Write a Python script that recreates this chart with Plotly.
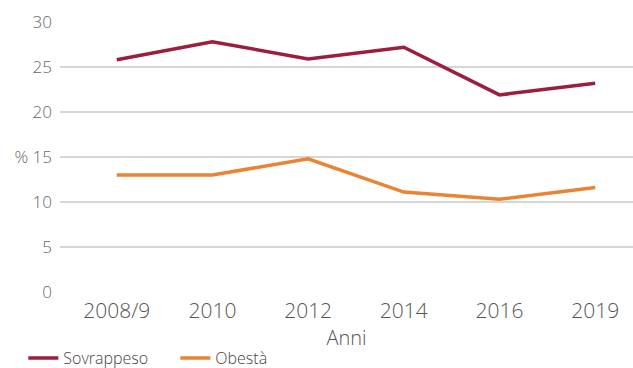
import plotly.graph_objects as go

anni = ["2008/9", "2010", "2012", "2014", "2016", "2019"]
sovrappeso = [25.8, 27.8, 25.9, 27.2, 21.9, 23.2]
obesita = [13.0, 13.0, 14.8, 11.1, 10.3, 11.6]
y_ticks = [0, 5, 10, 15, 20, 25, 30]
y_labels = ["0", "5", "10", "% 15", "20", "25", "30"]

FONT = "Open Sans, Lato, sans-serif"

fig = go.Figure()
fig.add_trace(go.Scatter(x=anni, y=sovrappeso, mode="lines", name="Sovrappeso",
                         line=dict(color="#9c1e3e", width=3.5)))
fig.add_trace(go.Scatter(x=anni, y=obesita, mode="lines", name="Obestà",
                         line=dict(color="#ea8433", width=3.5)))

fig.update_layout(
    width=633, height=368,
    margin=dict(l=60, r=0, t=22, b=76, autoexpand=False),
    paper_bgcolor="white", plot_bgcolor="white",
    font=dict(family=FONT, color="#666666", size=15, weight=300),
    showlegend=True,
    legend=dict(orientation="h", x=-0.064, y=-0.182, xanchor="left", yanchor="top",
                font=dict(size=16, color="#444444", weight=300), itemwidth=30,
                entrywidth=107, tracegroupgap=0, bgcolor="rgba(0,0,0,0)"),
    xaxis=dict(type="category", range=[-0.593, 5.395], showgrid=False,
               showline=False, ticks="", ticklabelstandoff=4,
               tickfont=dict(size=21, color="#555555", weight=300),
               title=dict(text="Anni", font=dict(size=20, color="#555555", weight=300),
                          standoff=0)),
    yaxis=dict(range=[0, 30], tickvals=y_ticks, ticktext=y_labels,
               showgrid=True, gridcolor="#d6d6d6", gridwidth=2,
               zeroline=False, showline=False, ticks="",
               tickfont=dict(size=17, color="#666666", weight=300), ticklabelstandoff=7),
)

fig.write_html("out.html")
